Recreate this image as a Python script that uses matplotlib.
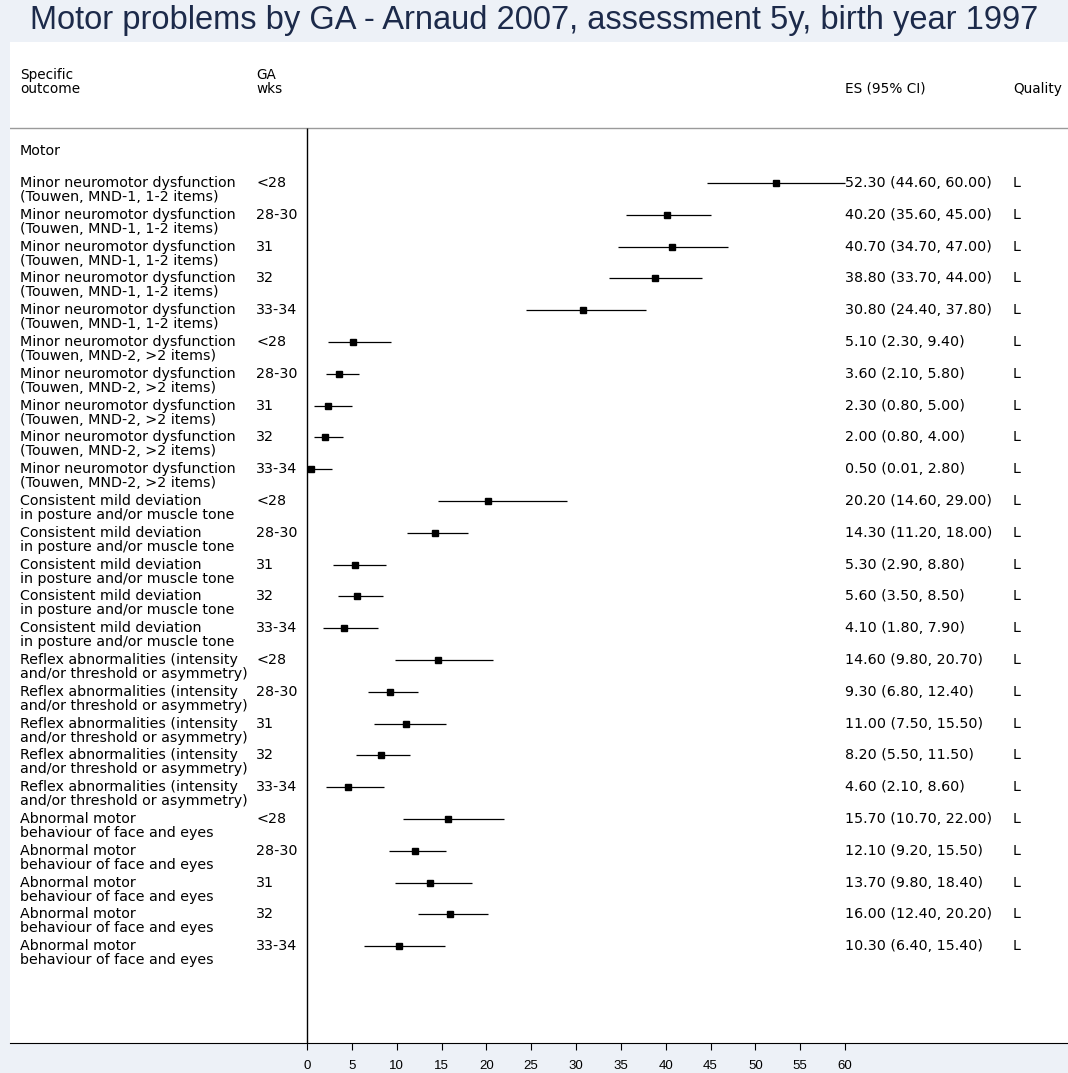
"""
Forest plot: Motor problems by GA - Arnaud 2007.
"""

import matplotlib.pyplot as plt
from matplotlib import font_manager
from matplotlib.transforms import blended_transform_factory

plt.rcParams["font.family"] = ["DejaVu Sans"]

title = "Motor problems by GA - Arnaud 2007, assessment 5y, birth year 1997"
section = "Motor"

outcomes = [
    "Minor neuromotor dysfunction\n(Touwen, MND-1, 1-2 items)",
    "Minor neuromotor dysfunction\n(Touwen, MND-2, >2 items)",
    "Consistent mild deviation\nin posture and/or muscle tone",
    "Reflex abnormalities (intensity\nand/or threshold or asymmetry)",
    "Abnormal motor\nbehaviour of face and eyes",
]
ga_groups = ["<28", "28-30", "31", "32", "33-34"]

es = [52.30, 40.20, 40.70, 38.80, 30.80,
      5.10, 3.60, 2.30, 2.00, 0.50,
      20.20, 14.30, 5.30, 5.60, 4.10,
      14.60, 9.30, 11.00, 8.20, 4.60,
      15.70, 12.10, 13.70, 16.00, 10.30]
lo = [44.60, 35.60, 34.70, 33.70, 24.40,
      2.30, 2.10, 0.80, 0.80, 0.01,
      14.60, 11.20, 2.90, 3.50, 1.80,
      9.80, 6.80, 7.50, 5.50, 2.10,
      10.70, 9.20, 9.80, 12.40, 6.40]
hi = [60.00, 45.00, 47.00, 44.00, 37.80,
      9.40, 5.80, 5.00, 4.00, 2.80,
      29.00, 18.00, 8.80, 8.50, 7.90,
      20.70, 12.40, 15.50, 11.50, 8.60,
      22.00, 15.50, 18.40, 20.20, 15.40]
quality = ["L"] * 25
xticks = list(range(0, 65, 5))

# narrow font for the axis labels if available
names = {f.name for f in font_manager.fontManager.ttflist}
tick_font = "Liberation Sans Narrow" if "Liberation Sans Narrow" in names else "Liberation Sans"

W, H = 1068, 1073
BG = "#EDF1F7"
fig = plt.figure(figsize=(W / 100, H / 100), dpi=100, facecolor=BG)

# white panel (pixel layout of the original)
px_left, px_top, px_bottom = 10, 42, 1043
ax = fig.add_axes([px_left / W, (H - px_bottom) / H, 1 - px_left / W, (px_bottom - px_top) / H])
ax.set_facecolor("white")

# x scale: 0 -> px 307, 60 -> px 845
ppu = (845 - 307) / 60
ax.set_xlim(-(307 - px_left) / ppu, (W - 307) / ppu)
# y scale: row i at px 183 + 31.8*i
row_h = 31.8
ax.set_ylim((px_bottom - 183) / row_h, (px_top - 183) / row_h)

rows = list(range(len(es)))
labels = [outcomes[i // len(ga_groups)] for i in rows]
gas = [ga_groups[i % len(ga_groups)] for i in rows]

ax.hlines(rows, lo, hi, color="black", lw=0.9)
ax.plot(es, rows, ls="none", marker="s", ms=4.5, color="black")

sep_y = (128 - 183) / row_h
ax.axhline(sep_y, color="#9a9a9a", lw=1)
ax.vlines(0, sep_y, ax.get_ylim()[0], color="black", lw=1)

tr = blended_transform_factory(fig.transFigure, ax.transData)
fs = 10.3
line2 = 14 / row_h
ax.text(20 / W, -1, section, transform=tr, fontsize=fs, va="center")
for i in rows:
    for k, part in enumerate(labels[i].split("\n")):
        ax.text(20 / W, i + k * line2, part, transform=tr, fontsize=fs, va="center")
    ax.text(256 / W, i, gas[i], transform=tr, fontsize=fs, va="center")
    ax.text(845 / W, i, f"{es[i]:.2f} ({lo[i]:.2f}, {hi[i]:.2f})", transform=tr, fontsize=fs, va="center")
    ax.text(1013 / W, i, quality[i], transform=tr, fontsize=fs, va="center")

# header
hdr1 = (75 - 183) / row_h
hdr2 = (89 - 183) / row_h
ax.text(20 / W, hdr1, "Specific", transform=tr, fontsize=fs - 0.5, va="center")
ax.text(20 / W, hdr2, "outcome", transform=tr, fontsize=fs - 0.5, va="center")
ax.text(256 / W, hdr1, "GA", transform=tr, fontsize=fs - 0.5, va="center")
ax.text(256 / W, hdr2, "wks", transform=tr, fontsize=fs - 0.5, va="center")
ax.text(845 / W, hdr2, "ES (95% CI)", transform=tr, fontsize=fs - 0.5, va="center")
ax.text(1013 / W, hdr2, "Quality", transform=tr, fontsize=fs - 0.5, va="center")

for s in ["top", "left", "right"]:
    ax.spines[s].set_visible(False)
ax.spines["bottom"].set_color("black")
ax.set_yticks([])
ax.set_xticks(xticks)
ax.set_xticklabels([str(t) for t in xticks], family=tick_font)
ax.tick_params(axis="x", direction="out", length=5, width=0.8, labelsize=9.5, pad=7.5)

fig.text(0.5, 1 - 20 / H, title, ha="center", va="center", fontsize=23.5,
         color="#1c2a4a", family="Liberation Sans")

fig.savefig("out.png", dpi=100, facecolor=BG)
